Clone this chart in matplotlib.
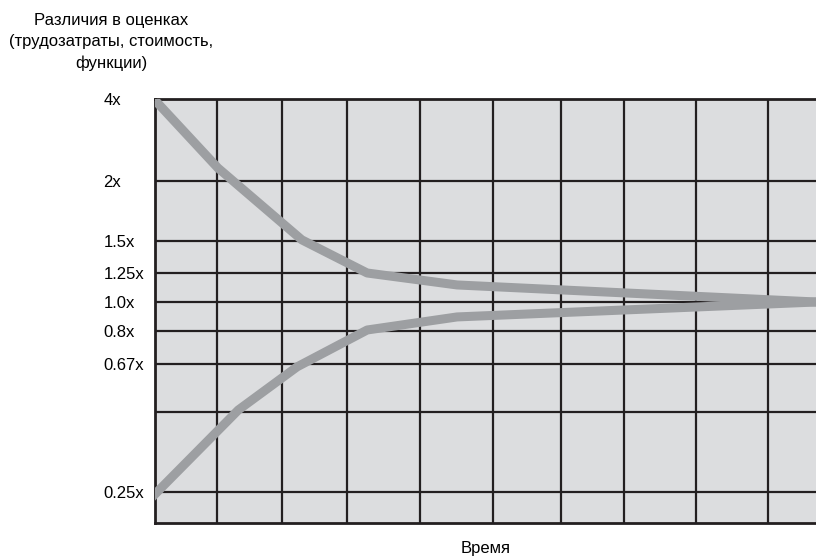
import numpy as np
import matplotlib
matplotlib.use("Agg")
import matplotlib.pyplot as plt

plt.rcParams['font.family'] = ['Liberation Sans', 'DejaVu Sans']

# y scale: estimate ratio -> vertical position (uneven spacing)
scale_vals = [0.15, 0.25, 0.5, 0.67, 0.8, 1.0, 1.25, 1.5, 2.0, 4.0]
scale_pos = [0, 31, 111, 159, 192, 221, 250, 282, 342, 424]

tick_vals = [4.0, 2.0, 1.5, 1.25, 1.0, 0.8, 0.67, 0.5, 0.25]
tick_labels = ["4x", "2x", "1.5x", "1.25x", "1.0x", "0.8x", "0.67x", "", "0.25x"]

# time axis (0..100), vertical grid lines
time_grid = [9.4, 19.2, 29.0, 40.1, 51.1, 61.4, 71.0, 81.8, 92.7]

# the cone of uncertainty
upper_t = [0, 9.5, 22.2, 32.1, 45.7, 100]
upper_v = [3.97, 2.32, 1.51, 1.25, 1.147, 1.0]
lower_t = [0, 12.6, 21.5, 32.1, 45.7, 100]
lower_v = [0.243, 0.507, 0.66, 0.807, 0.897, 1.0]


def fwd(v):
    return np.interp(v, scale_vals, scale_pos)


def inv(p):
    return np.interp(p, scale_pos, scale_vals)


fig = plt.figure(figsize=(8.16, 5.57), dpi=100)
ax = fig.add_axes([155/816, 34/557, 1 - 155/816, (523-99)/557])
ax.set_yscale('function', functions=(fwd, inv))
ax.set_facecolor('#dcdddf')

grid_col = '#231f20'
for v in tick_vals[1:]:
    ax.axhline(v, color=grid_col, lw=1.6, zorder=1)
for t in time_grid:
    ax.axvline(t, color=grid_col, lw=1.6, zorder=1)

ax.plot(upper_t, upper_v, color='#9d9fa2', lw=6.5, solid_joinstyle='round', zorder=3)
ax.plot(lower_t, lower_v, color='#9d9fa2', lw=6.5, solid_joinstyle='round', zorder=3)

ax.set_xlim(0, 100)
ax.set_ylim(0.15, 4.0)
ax.set_xticks([])
ax.set_yticks(tick_vals)
ax.set_yticklabels(tick_labels)
ax.yaxis.set_minor_locator(plt.NullLocator())
ax.tick_params(axis='y', length=0, pad=37, labelsize=12)
for lab in ax.get_yticklabels():
    lab.set_horizontalalignment('left')

for s in ['left', 'top', 'bottom']:
    ax.spines[s].set_color(grid_col)
    ax.spines[s].set_linewidth(2)
ax.spines['right'].set_visible(False)

ax.set_xlabel("Время", fontsize=12, labelpad=13)
fig.text(111/816, 1 - 13/557,
         "Различия в оценках\n(трудозатраты, стоимость,\nфункции)",
         ha='center', va='top', fontsize=12, linespacing=1.5)

fig.savefig("out.png", dpi=100)
